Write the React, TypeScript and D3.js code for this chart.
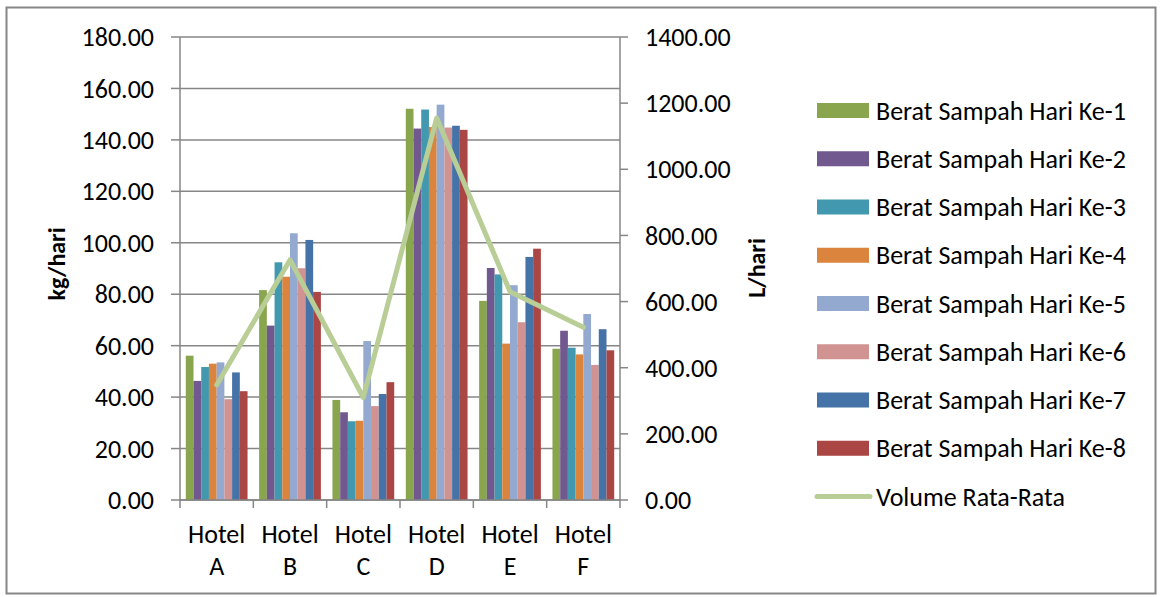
import React from 'react';
import * as d3 from 'd3';

const hotels = ['A', 'B', 'C', 'D', 'E', 'F'];
const seriesNames = [
  'Berat Sampah Hari Ke-1',
  'Berat Sampah Hari Ke-2',
  'Berat Sampah Hari Ke-3',
  'Berat Sampah Hari Ke-4',
  'Berat Sampah Hari Ke-5',
  'Berat Sampah Hari Ke-6',
  'Berat Sampah Hari Ke-7',
  'Berat Sampah Hari Ke-8',
];
// kg/hari per hotel, one array per day
const day1 = [56.1, 81.6, 38.9, 152.1, 77.4, 58.8];
const day2 = [46.3, 67.8, 34.1, 144.4, 90.2, 65.8];
const day3 = [51.7, 92.4, 30.6, 151.8, 87.7, 59.2];
const day4 = [53.0, 86.8, 30.8, 145.0, 60.8, 56.6];
const day5 = [53.5, 103.7, 61.8, 153.7, 83.5, 72.3];
const day6 = [39.2, 90.1, 36.5, 144.8, 69.1, 52.5];
const day7 = [49.6, 101.1, 41.2, 145.5, 94.5, 66.4];
const day8 = [42.3, 80.9, 45.8, 143.9, 97.7, 58.2];
// L/hari
const volumeAvg = [348, 726, 310, 1155, 630, 522];

const leftTicks = [0, 20, 40, 60, 80, 100, 120, 140, 160, 180];
const rightTicks = [0, 200, 400, 600, 800, 1000, 1200, 1400];

const colors = ['#89A54E', '#71588F', '#4198AF', '#DB843D', '#93A9CF', '#D19392', '#4572A7', '#AA4643'];
const lineColor = '#B9CD96';
const axisColor = '#868686';
const font = "Calibri, Carlito, 'Noto Sans', sans-serif";
const fs = 26;

export default function App() {
  const width = 1160;
  const height = 597;
  const left = 180;
  const right = 620;
  const top = 37;
  const bottom = 500;

  const days = [day1, day2, day3, day4, day5, day6, day7, day8];

  const x0 = d3
    .scaleBand<string>()
    .domain(hotels)
    .range([left, right])
    .paddingInner(1.5 / 9.5)
    .paddingOuter(0.75 / 9.5);
  const x1 = d3
    .scaleBand<number>()
    .domain(d3.range(days.length))
    .range([0, x0.bandwidth()]);
  const yL = d3.scaleLinear().domain([0, 180]).range([bottom, top]);
  const yR = d3.scaleLinear().domain([0, 1400]).range([bottom, top]);

  const step = (right - left) / hotels.length;
  const center = (i: number) => left + step * (i + 0.5);

  const line = d3
    .line<number>()
    .x((_, i) => center(i))
    .y(d => yR(d));

  const legendY = (i: number) => 110.5 + i * 48.25;

  return (
    <svg
      width={width}
      height={height}
      style={{ position: 'absolute', left: 0, top: 0, background: '#fff' }}
      fontFamily={font}
    >
      <rect x={6.5} y={7.5} width={1149} height={586} fill="#fff" stroke={axisColor} strokeWidth={2} />

      {/* gridlines */}
      {leftTicks.map(t => (
        <line key={'g' + t} x1={left} x2={right} y1={yL(t)} y2={yL(t)} stroke={axisColor} strokeWidth={1.5} />
      ))}

      {/* bars */}
      {hotels.map((h, hi) => (
        <g key={h} transform={`translate(${x0(h)},0)`}>
          {days.map((vals, di) => (
            <rect
              key={di}
              x={x1(di)}
              y={yL(vals[hi])}
              width={x1.bandwidth()}
              height={bottom - yL(vals[hi])}
              fill={colors[di]}
            />
          ))}
        </g>
      ))}

      {/* axes */}
      <line x1={left} x2={left} y1={top} y2={bottom} stroke={axisColor} strokeWidth={1.5} />
      <line x1={right} x2={right} y1={top} y2={bottom} stroke={axisColor} strokeWidth={1.5} />
      <line x1={left} x2={right} y1={bottom} y2={bottom} stroke={axisColor} strokeWidth={1.5} />
      {leftTicks.map(t => (
        <g key={'l' + t}>
          <line x1={left - 9} x2={left} y1={yL(t)} y2={yL(t)} stroke={axisColor} strokeWidth={1.5} />
          <text x={154} y={yL(t)} dy="0.35em" textAnchor="end" fontSize={fs} fill="#000">
            {t.toFixed(2)}
          </text>
        </g>
      ))}
      {rightTicks.map(t => (
        <g key={'r' + t}>
          <line x1={right} x2={right + 8} y1={yR(t)} y2={yR(t)} stroke={axisColor} strokeWidth={1.5} />
          <text x={645} y={yR(t)} dy="0.35em" textAnchor="start" fontSize={fs} fill="#000">
            {t.toFixed(2)}
          </text>
        </g>
      ))}
      {d3.range(hotels.length + 1).map(i => (
        <line
          key={'x' + i}
          x1={left + step * i}
          x2={left + step * i}
          y1={bottom}
          y2={bottom + 8}
          stroke={axisColor}
          strokeWidth={1.5}
        />
      ))}
      {hotels.map((h, i) => (
        <g key={'xl' + h}>
          <text x={center(i)} y={543} textAnchor="middle" fontSize={fs} fill="#000">
            Hotel
          </text>
          <text x={center(i)} y={575} textAnchor="middle" fontSize={fs} fill="#000">
            {h}
          </text>
        </g>
      ))}

      {/* average volume line */}
      <path
        d={line(volumeAvg) || ''}
        fill="none"
        stroke={lineColor}
        strokeWidth={5}
        strokeLinejoin="round"
        strokeLinecap="round"
      />

      {/* axis titles */}
      <text
        transform="translate(57,264) rotate(-90)"
        textAnchor="middle"
        dy="0.35em"
        fontSize={24}
        fontWeight="bold"
        fill="#000"
      >
        kg/hari
      </text>
      <text
        transform="translate(757,268) rotate(-90)"
        textAnchor="middle"
        dy="0.35em"
        fontSize={24}
        fontWeight="bold"
        fill="#000"
      >
        L/hari
      </text>

      {/* legend */}
      {seriesNames.map((name, i) => (
        <g key={name}>
          <rect x={817} y={legendY(i) - 7.5} width={52} height={15} fill={colors[i]} />
          <text x={876} y={legendY(i)} dy="0.35em" fontSize={fs} fill="#000">
            {name}
          </text>
        </g>
      ))}
      <line
        x1={817}
        x2={870}
        y1={legendY(8)}
        y2={legendY(8)}
        stroke={lineColor}
        strokeWidth={5}
        strokeLinecap="round"
      />
      <text x={876} y={legendY(8)} dy="0.35em" fontSize={fs} fill="#000">
        Volume Rata-Rata
      </text>
    </svg>
  );
}
